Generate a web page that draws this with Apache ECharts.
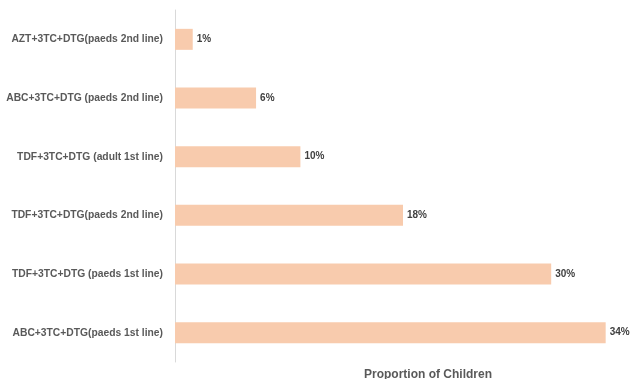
<!DOCTYPE html>
<html>
<head>
<meta charset="utf-8">
<script src="https://cdn.jsdelivr.net/npm/echarts@6/dist/echarts.min.js"></script>
<style>
  html, body { margin: 0; padding: 0; background: #fff; }
  #chart { width: 635px; height: 379px; }
</style>
</head>
<body>
<div id="chart"></div>
<script>
// categories top to bottom
var regimens = [
  'AZT+3TC+DTG(paeds 2nd line)',
  'ABC+3TC+DTG (paeds 2nd line)',
  'TDF+3TC+DTG (adult 1st line)',
  'TDF+3TC+DTG(paeds 2nd line)',
  'TDF+3TC+DTG (paeds 1st line)',
  'ABC+3TC+DTG(paeds 1st line)'
];
// proportion of children, %
var proportions = [1.4, 6.4, 9.9, 18.0, 29.7, 34.0];

var myChart = echarts.init(document.getElementById('chart'));
var option = {
  animation: false,
  title: {
    text: 'Proportion of Children',
    left: 359,
    top: 364,
    textStyle: {
      fontFamily: 'Liberation Sans',
      fontSize: 12,
      fontWeight: 'bold',
      color: '#595959'
    }
  },
  grid: {
    left: 175,
    top: 10,
    right: 4,
    height: 352
  },
  xAxis: {
    type: 'value',
    min: 0,
    max: 36,
    show: false
  },
  yAxis: {
    type: 'category',
    inverse: true,
    data: regimens,
    axisLine: { show: true, lineStyle: { color: '#d9d9d9', width: 1 } },
    axisTick: { show: false },
    axisLabel: {
      margin: 12,
      fontFamily: 'Liberation Sans',
      fontSize: 10.3,
      fontWeight: 'bold',
      color: '#595959'
    }
  },
  series: [{
    type: 'bar',
    data: proportions,
    barWidth: 21,
    itemStyle: { color: '#f8cbad' },
    label: {
      show: true,
      position: 'right',
      distance: 4,
      formatter: function (p) { return Math.round(p.value) + '%'; },
      fontFamily: 'Liberation Sans',
      fontSize: 10,
      fontWeight: 'bold',
      color: '#404040'
    }
  }]
};
myChart.setOption(option);
</script>
</body>
</html>
